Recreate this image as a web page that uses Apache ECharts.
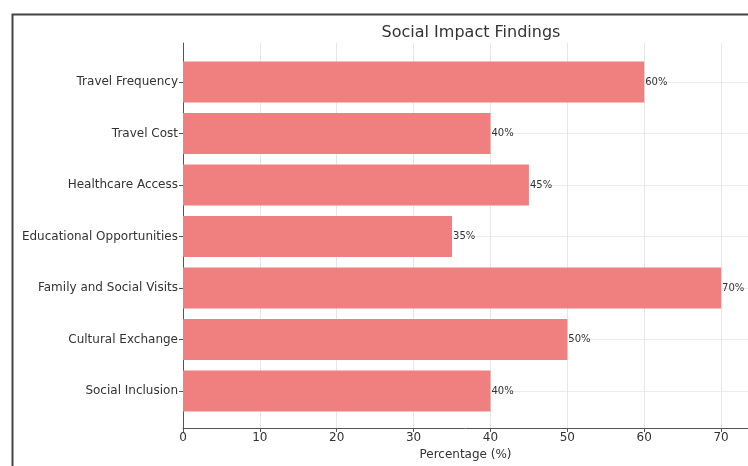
<!DOCTYPE html>
<html>
<head>
<meta charset="utf-8">
<script src="https://cdn.jsdelivr.net/npm/echarts@6/dist/echarts.min.js"></script>
<style>html,body{margin:0;padding:0;background:#fff;}#chart{width:748px;height:466px;}</style>
</head>
<body>
<div id="chart"></div>
<script>
const categories = ["Travel Frequency", "Travel Cost", "Healthcare Access", "Educational Opportunities", "Family and Social Visits", "Cultural Exchange", "Social Inclusion"];
const percentages = [60, 40, 45, 35, 70, 50, 40];
const xTicks = [0, 10, 20, 30, 40, 50, 60, 70];

const FONT = "DejaVu Sans";
const chart = echarts.init(document.getElementById('chart'), null, {renderer: 'canvas'});
chart.setOption({
  animation: false,
  backgroundColor: '#ffffff',
  title: {
    text: 'Social Impact Findings',
    left: 466, top: 20, textAlign: 'center',
    textStyle: {fontFamily: FONT, fontSize: 16, fontWeight: 'normal', color: '#333'}
  },
  graphic: [{
    type: 'rect', left: 10, top: 12,
    shape: {width: 760, height: 480},
    style: {fill: 'none', stroke: '#444', lineWidth: 2}
  }],
  grid: [
    {left: 183, right: -2, top: 43, bottom: 38},
    {left: 183, right: -2, top: 82, bottom: 75}
  ],
  xAxis: [
    {
      gridIndex: 0, type: 'value', min: 0, max: 73.5, interval: 10,
      name: 'Percentage (%)', nameLocation: 'middle', nameGap: 21,
      nameTextStyle: {fontFamily: FONT, fontSize: 12, color: '#333'},
      axisLine: {show: true, lineStyle: {color: '#555', width: 1}},
      axisTick: {show: true, length: 4, lineStyle: {color: '#555'}},
      axisLabel: {fontFamily: FONT, fontSize: 12, color: '#333', margin: 4, showMaxLabel: false,
        formatter: v => xTicks.includes(v) ? String(v) : ''},
      splitLine: {show: true, lineStyle: {color: '#e6e6e6', width: 1}}
    },
    {gridIndex: 1, type: 'value', min: 0, max: 73.5, show: false}
  ],
  yAxis: [
    {
      gridIndex: 0, type: 'value', min: 0, max: 1,
      axisLine: {show: true, lineStyle: {color: '#555', width: 1}},
      axisTick: {show: false}, axisLabel: {show: false}, splitLine: {show: false}
    },
    {
      gridIndex: 1, type: 'category', data: categories, inverse: true, boundaryGap: false,
      axisLine: {show: false},
      axisTick: {show: true, length: 4, lineStyle: {color: '#555'}},
      axisLabel: {fontFamily: FONT, fontSize: 12, color: '#333', margin: 5},
      splitLine: {show: true, lineStyle: {color: '#ececec', width: 1}}
    }
  ],
  series: [{
    type: 'bar', xAxisIndex: 1, yAxisIndex: 1,
    data: percentages, barWidth: 41,
    itemStyle: {color: '#F08080'},
    label: {show: true, position: 'right', distance: 1, formatter: '{c}%',
      fontFamily: FONT, fontSize: 10, color: '#333'},
    z: 3
  }]
});
</script>
</body>
</html>
